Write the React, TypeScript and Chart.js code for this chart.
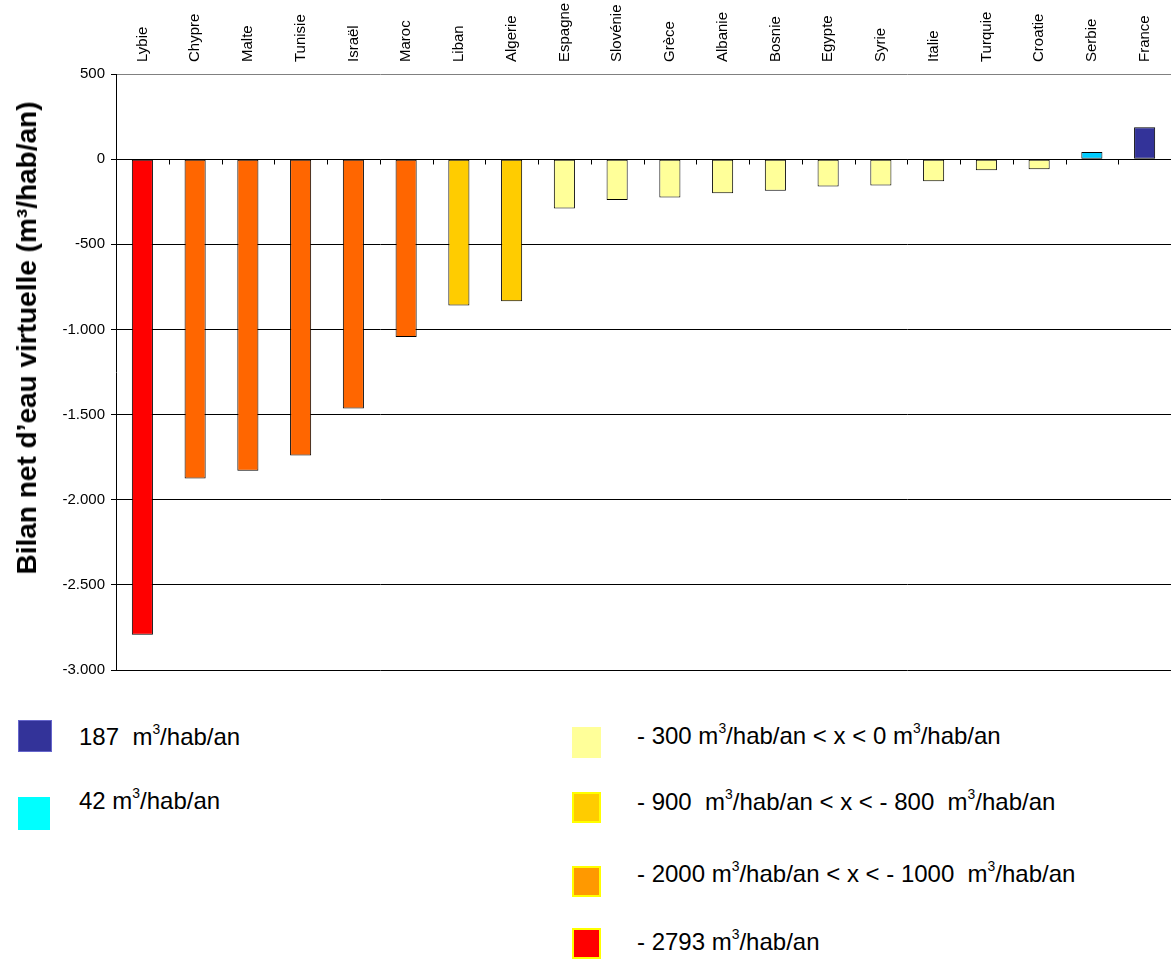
import React, { useEffect, useRef } from 'react';
import { Chart, registerables } from 'chart.js';

Chart.register(...registerables);

const categories = ['Lybie', 'Chypre', 'Malte', 'Tunisie', 'Israël', 'Maroc', 'Liban', 'Algerie', 'Espagne', 'Slovénie', 'Grèce', 'Albanie', 'Bosnie', 'Egypte', 'Syrie', 'Italie', 'Turquie', 'Croatie', 'Serbie', 'France'];
const values = [-2793, -1875, -1830, -1740, -1465, -1045, -860, -835, -290, -240, -225, -200, -185, -160, -155, -130, -65, -60, 42, 187];
const barColors = ['#FF0000', '#FF6600', '#FF6600', '#FF6600', '#FF6600', '#FF6600', '#FFCC00', '#FFCC00', '#FFFF99', '#FFFF99', '#FFFF99', '#FFFF99', '#FFFF99', '#FFFF99', '#FFFF99', '#FFFF99', '#FFFF99', '#FFFF99', '#00CCFF', '#333399'];
const yMin = -3000;
const yMax = 500;
const yStep = 500;
const yTitle = "Bilan net d\u2019eau virtuelle (m\u00B3/hab/an)";

const legendLeft = [
  { color: '#333399', border: '#6666CC', parts: ['187  m', '/hab/an'] },
  { color: '#00FFFF', border: '#00FFFF', parts: ['42 m', '/hab/an'] },
];
const legendRight = [
  { color: '#FFFF99', border: '#FFFF99', parts: ['- 300 m', '/hab/an < x < 0 m', '/hab/an'] },
  { color: '#FFCC00', border: '#FFFF00', parts: ['- 900  m', '/hab/an < x < - 800  m', '/hab/an'] },
  { color: '#FF9900', border: '#FFFF00', parts: ['- 2000 m', '/hab/an < x < - 1000  m', '/hab/an'] },
  { color: '#FF0000', border: '#FFFF00', parts: ['- 2793 m', '/hab/an'] },
];

const FONT = 'Arial, "Liberation Sans", sans-serif';

function fmt(v: number): string {
  const s = Math.abs(v).toString().replace(/\B(?=(\d{3})+(?!\d))/g, '.');
  return (v < 0 ? '-' : '') + s;
}

const catTicks = {
  id: 'catTicks',
  afterDatasetsDraw(chart: any) {
    const x = chart.scales.x;
    const y = chart.scales.y;
    const ctx = chart.ctx;
    const y0 = Math.round(y.getPixelForValue(0)) + 0.5;
    const w = x.getPixelForValue(1) - x.getPixelForValue(0);
    ctx.save();
    ctx.strokeStyle = '#000';
    ctx.lineWidth = 1;
    ctx.beginPath();
    for (let i = 1; i < categories.length; i++) {
      const px = Math.round(x.getPixelForValue(i) - w / 2) + 0.5;
      ctx.moveTo(px, y0);
      ctx.lineTo(px, y0 + 5);
    }
    ctx.stroke();
    ctx.restore();
  },
};

const Sup = () => <sup style={{ fontSize: '58%', lineHeight: 0, verticalAlign: '0.8em' }}>3</sup>;

export default function App() {
  const ref = useRef<HTMLCanvasElement>(null);

  useEffect(() => {
    if (!ref.current) return;
    const chart = new Chart(ref.current, {
      type: 'bar',
      data: {
        labels: categories,
        datasets: [
          {
            data: values,
            backgroundColor: barColors,
            borderColor: '#000',
            borderWidth: 1,
            borderSkipped: false,
            barPercentage: 0.4,
            categoryPercentage: 1,
          },
        ],
      },
      options: {
        responsive: false,
        animation: false,
        layout: { padding: { left: 0, right: 0, top: 0, bottom: 11 } },
        plugins: { legend: { display: false }, tooltip: { enabled: false } },
        scales: {
          x: {
            position: 'top',
            offset: true,
            grid: { display: false, drawTicks: false },
            border: { display: false },
            ticks: {
              minRotation: 90,
              maxRotation: 90,
              autoSkip: false,
              padding: 12,
              labelOffset: 18,
              color: '#000',
              font: { family: FONT, size: 15 },
            },
            afterFit: (s: any) => {
              s.height = 74;
            },
          },
          y: {
            min: yMin,
            max: yMax,
            ticks: {
              stepSize: yStep,
              padding: 6,
              color: '#000',
              font: { family: FONT, size: 15 },
              callback: (v: any) => fmt(Number(v)),
            },
            grid: {
              color: (c: any) => (c.tick && c.tick.value === yMax ? '#808080' : '#000'),
              lineWidth: 1,
              tickLength: 5,
              tickColor: '#000',
            },
            border: { display: true, color: '#000', width: 1 },
            afterFit: (s: any) => {
              s.width = 116;
            },
          },
        },
      } as any,
      plugins: [catTicks],
    });
    return () => chart.destroy();
  }, []);

  const textStyle: React.CSSProperties = {
    position: 'absolute',
    fontFamily: FONT,
    fontSize: 24,
    lineHeight: '24px',
    whiteSpace: 'pre',
    color: '#000',
  };

  const leftSquares = [
    { top: 720, left: 18, w: 34, h: 32 },
    { top: 797, left: 18, w: 32, h: 33 },
  ];
  const leftBaselines = [745, 809];
  const rightSquares = [727, 792, 866, 928];
  const rightBaselines = [744, 810, 882, 950];

  const renderParts = (parts: string[]) =>
    parts.map((p, j) => (
      <React.Fragment key={j}>
        {p}
        {j < parts.length - 1 ? <Sup /> : null}
      </React.Fragment>
    ));

  return (
    <div style={{ position: 'absolute', left: 0, top: 0, width: 1171, height: 959, overflow: 'hidden', background: '#fff' }}>
      <canvas ref={ref} width={1171} height={685} style={{ position: 'absolute', left: 0, top: 0 }} />
      <div
        style={{
          position: 'absolute',
          left: 27,
          top: 338,
          transform: 'translate(-50%, -50%) rotate(-90deg)',
          whiteSpace: 'nowrap',
          fontFamily: FONT,
          fontWeight: 'bold',
          fontSize: 28,
          lineHeight: '30px',
          color: '#000',
        }}
      >
        {yTitle}
      </div>
      {legendLeft.map((it, i) => (
        <React.Fragment key={'l' + i}>
          <div
            style={{
              position: 'absolute',
              left: leftSquares[i].left,
              top: leftSquares[i].top,
              width: leftSquares[i].w,
              height: leftSquares[i].h,
              boxSizing: 'border-box',
              background: it.color,
              border: `1px solid ${it.border}`,
            }}
          />
          <div style={{ ...textStyle, left: 79, top: leftBaselines[i] - 20 }}>{renderParts(it.parts)}</div>
        </React.Fragment>
      ))}
      {legendRight.map((it, i) => (
        <React.Fragment key={'r' + i}>
          <div
            style={{
              position: 'absolute',
              left: 572,
              top: rightSquares[i],
              width: 29,
              height: 31,
              boxSizing: 'border-box',
              background: it.color,
              border: `2px solid ${it.border}`,
            }}
          />
          <div style={{ ...textStyle, left: 637, top: rightBaselines[i] - 20 }}>{renderParts(it.parts)}</div>
        </React.Fragment>
      ))}
    </div>
  );
}
